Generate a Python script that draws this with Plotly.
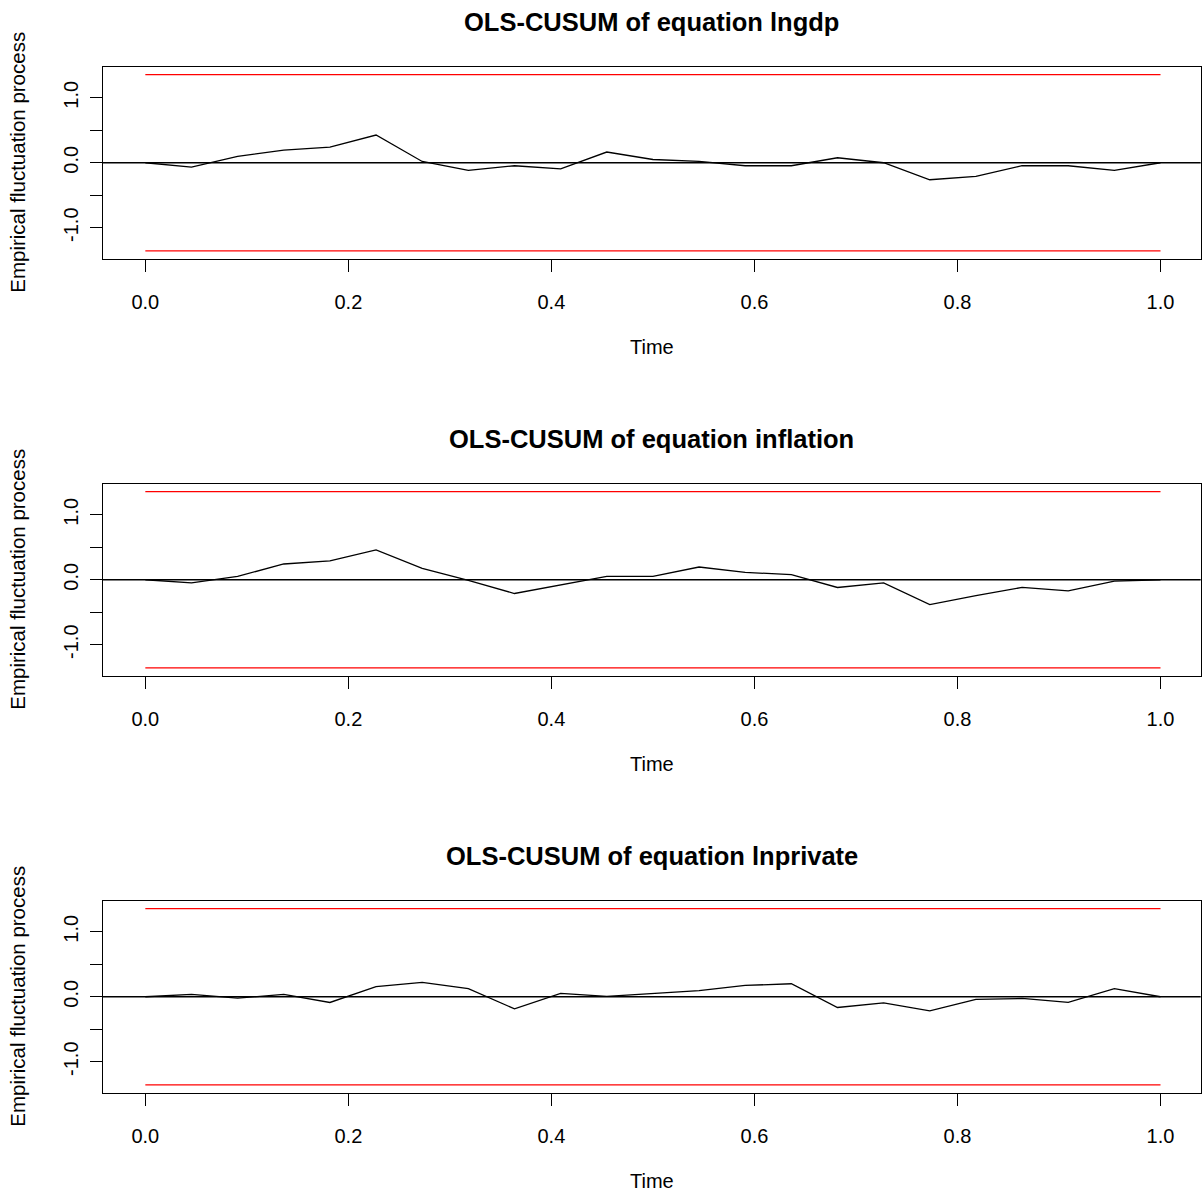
import plotly.graph_objects as go

W, H = 1202, 1193

# ---- data ----
time = [i / 22 for i in range(23)]
equations = ["lngdp", "inflation", "lnprivate"]
lngdp = [0.0, -0.067, 0.098, 0.195, 0.242, 0.427, 0.02, -0.118, -0.046, -0.093, 0.165, 0.05,
         0.02, -0.046, -0.046, 0.077, 0.0, -0.262, -0.21, -0.046, -0.046, -0.118, 0.0]
inflation = [0.0, -0.047, 0.052, 0.243, 0.29, 0.46, 0.176, -0.01, -0.212, -0.078, 0.052, 0.052,
             0.196, 0.114, 0.078, -0.119, -0.047, -0.383, -0.243, -0.119, -0.171, -0.021, 0.0]
lnprivate = [0.0, 0.036, -0.021, 0.036, -0.088, 0.155, 0.222, 0.124, -0.186, 0.052, 0.005, 0.045,
             0.095, 0.175, 0.2, -0.165, -0.093, -0.216, -0.041, -0.026, -0.088, 0.124, 0.0]
series = [lngdp, inflation, lnprivate]
boundary = 1.358
x_ticks = [0.0, 0.2, 0.4, 0.6, 0.8, 1.0]
x_ticklabels = ["0.0", "0.2", "0.4", "0.6", "0.8", "1.0"]
y_ticks = [-1.0, -0.5, 0.0, 0.5, 1.0]
y_ticklabels = ["-1.0", "", "0.0", "", "1.0"]

FONT = "Liberation Sans, Arial, Helvetica, sans-serif"
fig = go.Figure()

left_px, right_px = 103, 1200.7
panel_step = 417
box_top0, box_bot0 = 67, 258.5

layout = dict(
    width=W, height=H, margin=dict(l=0, r=0, t=0, b=0),
    paper_bgcolor="white", plot_bgcolor="white", showlegend=False,
    font=dict(family=FONT, size=20, color="black"),
)
annotations = []
shapes = []

for k, (name, vals) in enumerate(zip(equations, series)):
    top = box_top0 + panel_step * k
    bot = box_bot0 + panel_step * k
    sfx = "" if k == 0 else str(k + 1)
    xa, ya = "x" + sfx, "y" + sfx
    # process
    fig.add_trace(go.Scatter(x=time, y=vals, mode="lines", xaxis=xa, yaxis=ya,
                             line=dict(color="black", width=1.3), hoverinfo="skip"))
    # boundaries
    for sgn in (1, -1):
        fig.add_trace(go.Scatter(x=[time[0], time[-1]], y=[sgn * boundary] * 2, mode="lines",
                                 xaxis=xa, yaxis=ya, line=dict(color="#ff0000", width=1.3),
                                 hoverinfo="skip"))
    # zero line across the box
    shapes.append(dict(type="line", xref=xa + " domain", yref=ya, x0=0, x1=1, y0=0, y1=0,
                       line=dict(color="black", width=1.3)))
    layout["xaxis" + sfx] = dict(
        domain=[left_px / W, right_px / W], anchor=ya, range=[-0.0417, 1.0396],
        tickvals=x_ticks, ticktext=x_ticklabels, ticks="outside", ticklen=12,
        tickwidth=1.3, tickcolor="black", showline=True, mirror=True, linecolor="black",
        linewidth=1.3, showgrid=False, zeroline=False, tickfont=dict(size=20, color="black"),
        ticklabelstandoff=13,
    )
    layout["yaxis" + sfx] = dict(
        domain=[1 - bot / H, 1 - top / H], anchor=xa, range=[-1.475, 1.475],
        tickvals=y_ticks, ticktext=y_ticklabels, ticks="outside", ticklen=12,
        tickwidth=1.3, tickcolor="black", showline=True, mirror=True, linecolor="black",
        linewidth=1.3, showgrid=False, zeroline=False, tickangle=-90,
        tickfont=dict(size=20, color="black"), ticklabelstandoff=4,
    )
    cx = (left_px + right_px) / 2 / W
    annotations.append(dict(text="<b>OLS-CUSUM of equation " + name + "</b>", xref="paper",
                            yref="paper", x=cx, y=1 - (22 + panel_step * k) / H,
                            xanchor="center", yanchor="middle", showarrow=False,
                            font=dict(size=25.5, color="black", family=FONT)))
    annotations.append(dict(text="Time", xref="paper", yref="paper", x=cx,
                            y=1 - (347 + panel_step * k) / H, xanchor="center",
                            yanchor="middle", showarrow=False,
                            font=dict(size=20, color="black", family=FONT)))
    annotations.append(dict(text="Empirical fluctuation process", xref="paper", yref="paper",
                            x=18 / W, y=1 - ((top + bot) / 2) / H, xanchor="center",
                            yanchor="middle", textangle=-90, showarrow=False,
                            font=dict(size=20.5, color="black", family=FONT)))

layout["annotations"] = annotations
layout["shapes"] = shapes
fig.update_layout(**layout)
fig.write_html("out.html", config={"displayModeBar": False},
               post_script="document.body.style.margin='0';document.body.style.overflow='hidden';")
